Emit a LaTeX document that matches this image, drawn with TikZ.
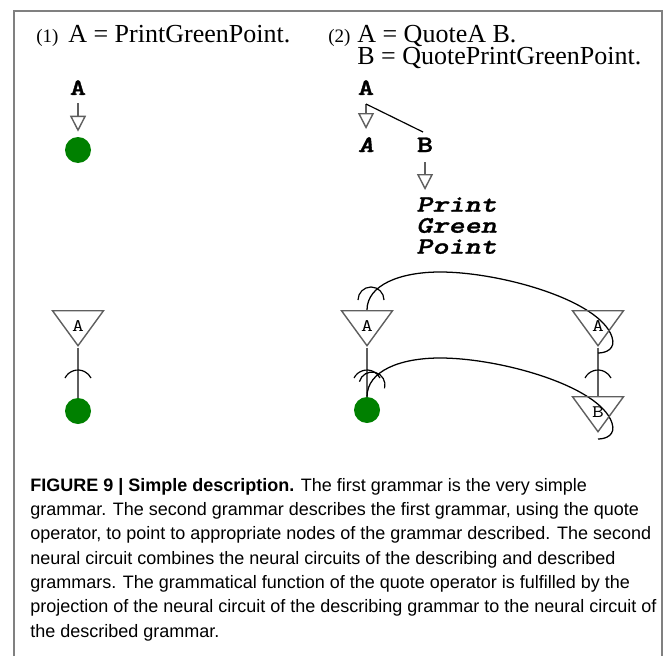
\documentclass[tikz,border=0pt]{standalone}
\usepackage{fontspec}
\setmainfont{Liberation Serif}
\setsansfont{Liberation Sans}
\newfontfamily\treefont{lmmonolt10-bold}[Extension=.otf,ItalicFont=lmmonolt10-boldoblique,FakeBold=1.2]
\usepackage{graphicx}
\usepackage{tikz}
\usetikzlibrary{arrows.meta}
\usetikzlibrary{shapes.geometric}
\pgfdeclarelayer{edgelayer}
\pgfdeclarelayer{nodelayer}
\pgfsetlayers{edgelayer,nodelayer,main}
\definecolor{pointgreen}{RGB}{0,128,0}
\definecolor{wiregray}{RGB}{95,95,95}
\definecolor{framegray}{RGB}{128,128,128}
\newcommand{\wide}[1]{\scalebox{1.3}[1]{#1}}
\newcommand{\cellname}[1]{\raisebox{-0.270cm}[0pt][0pt]{\wide{#1}}}
\tikzstyle{title}=[anchor=base west,inner sep=0,font=\fontsize{18.5pt}{15.5pt}\selectfont]
\tikzstyle{titlepair}=[anchor=north west,inner sep=0,align=left,font=\fontsize{18.5pt}{15.45pt}\selectfont]
\tikzstyle{number}=[anchor=base west,inner sep=0,font=\fontsize{13.5pt}{15pt}\selectfont]
\tikzstyle{term}=[anchor=base,inner sep=0,font=\fontsize{16.8pt}{18pt}\selectfont\treefont]
\tikzstyle{quoted}=[anchor=north west,inner sep=0,align=left,font=\fontsize{16.8pt}{14.95pt}\selectfont\treefont\itshape]
\tikzstyle{greenpoint}=[circle,fill=pointgreen,inner sep=0,minimum size=0.65cm]
\tikzstyle{neuron}=[isosceles triangle,isosceles triangle stretches,shape border rotate=270,draw=wiregray,line width=1pt,inner sep=0,minimum width=1.275cm,minimum height=0.875cm,font=\fontsize{12.5pt}{14pt}\selectfont\ttfamily]
\tikzstyle{arrowdown}=[draw=wiregray,line width=1pt,-{Triangle[open,width=0.400cm,length=0.400cm]}]
\tikzstyle{branch}=[draw=black,line width=0.85pt]
\tikzstyle{axon}=[draw=wiregray,line width=1.4pt]
\tikzstyle{synapse}=[draw=black,line width=0.85pt]
\tikzstyle{proj}=[draw=black,line width=0.9pt]
\tikzstyle{figframe}=[draw=framegray,line width=0.9pt]
\tikzstyle{captiontext}=[anchor=north west,inner sep=0,align=left,font=\sffamily\fontsize{12.8pt}{17.29pt}\selectfont]

\begin{document}
\begin{tikzpicture}
	\useasboundingbox (0,0) rectangle (16.725,-16.400);
	\draw [style=figframe] (0.350,-16.400) -- (0.350,-0.275) -- (16.550,-0.275) -- (16.550,-16.400);
	\begin{pgfonlayer}{nodelayer}
		% grammars
		\node [style=number] (0) at (0.900,-1.075) {(1)};
		\node [style=title] (1) at (1.700,-1.075) {A = PrintGreenPoint.};
		\node [style=number] (2) at (8.200,-1.075) {(2)};
		\node [style=titlepair] (3) at (8.925,-0.635) {A = QuoteA B.\\B = QuotePrintGreenPoint.};
		% trees
		\node [style=term] (5) at (1.950,-2.375) {\wide{A}};
		\node [style=greenpoint] (6) at (1.950,-3.750) {};
		\node [style=term] (7) at (9.150,-2.375) {\wide{A}};
		\node [style=term] (8) at (9.150,-3.800) {\wide{\itshape A}};
		\node [style=term] (9) at (10.625,-3.800) {\wide{B}};
		\coordinate (10) at (9.150,-2.600);
		\coordinate (11) at (10.575,-3.300);
		\node [style=quoted] (12) at (10.400,-4.925) {\wide{Print}\\\wide{Green}\\\wide{Point}};
		% neural circuits
		\node [style=neuron] (15) at (1.950,-8.017) {\cellname{A}};
		\node [style=greenpoint] (16) at (1.950,-10.275) {};
		\node [style=neuron] (18) at (9.175,-8.017) {\cellname{A}};
		\node [style=greenpoint] (19) at (9.175,-10.250) {};
		\node [style=neuron] (20) at (14.950,-8.017) {\cellname{A}};
		\node [style=neuron] (21) at (14.950,-10.167) {\cellname{B}};
		\coordinate (17) at (1.950,-9.450);
		\coordinate (22) at (9.175,-9.450);
		\coordinate (23) at (14.950,-9.450);
		\coordinate (24) at (9.275,-7.500);
		\coordinate (25) at (9.300,-9.625);
		\coordinate (26) at (14.950,-8.825);
		\coordinate (27) at (14.950,-10.975);
		\node [style=captiontext] (28) at (0.750,-11.950) {\textbf{FIGURE 9 | Simple description.} The first grammar is the very simple\\grammar. The second grammar describes the first grammar, using the quote\\operator, to point to appropriate nodes of the grammar described. The second\\neural circuit combines the neural circuits of the describing and described\\grammars. The grammatical function of the quote operator is fulfilled by the\\projection of the neural circuit of the describing grammar to the neural circuit of\\the described grammar.};
	\end{pgfonlayer}
	\begin{pgfonlayer}{edgelayer}
		\draw [style=arrowdown, shorten <=0.200cm, shorten >=0.125cm] (5.south) -- (6.north);
		\draw [style=arrowdown, shorten >=0.200cm] (10) -- (8.north);
		\draw [style=branch] (10) -- (11);
		\draw [style=arrowdown, shorten <=0.250cm, shorten >=0.175cm] (9.south) -- (9.south |- 12.north);
		\draw [style=axon] (15.apex) -- (16.north);
		\draw [style=axon] (18.apex) -- (19.north);
		\draw [style=axon] (20.apex) -- (21.north);
		\draw [style=synapse] ([xshift=-0.325cm]17) arc[start angle=153,end angle=27,radius=0.365cm];
		\draw [style=synapse] ([xshift=-0.325cm]22) arc[start angle=153,end angle=27,radius=0.365cm];
		\draw [style=synapse] ([xshift=-0.325cm]23) arc[start angle=153,end angle=27,radius=0.365cm];
		\draw [style=synapse] ([xshift=-0.325cm]24) arc[start angle=180,end angle=0,radius=0.325cm];
		\draw [style=synapse] ([shift={(-0.314,0.084)}]25) arc[start angle=165,end angle=-15,radius=0.325cm];
		\draw [style=proj] (18.north) .. controls (9.175,-7.125) and (10.000,-6.800) .. (11.000,-6.800) .. controls (12.500,-6.800) and (15.000,-7.500) .. (15.300,-8.425) .. controls (15.400,-8.725) and (15.150,-8.825) .. (26);
		\draw [style=proj] (19.north) .. controls (9.175,-9.275) and (10.000,-8.950) .. (11.000,-8.950) .. controls (12.500,-8.950) and (15.000,-9.650) .. (15.300,-10.575) .. controls (15.400,-10.875) and (15.150,-10.975) .. (27);
	\end{pgfonlayer}
\end{tikzpicture}
\end{document}
